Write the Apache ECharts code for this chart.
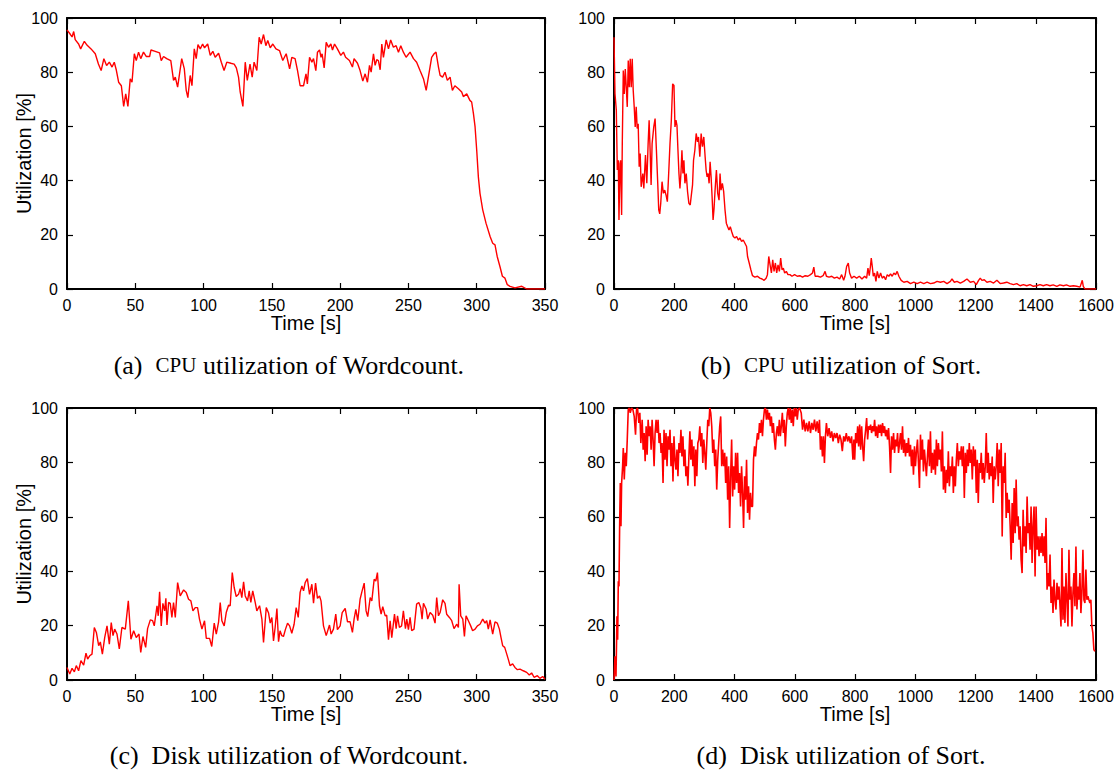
<!DOCTYPE html>
<html>
<head>
<meta charset="utf-8">
<title>Utilization</title>
<script src="https://cdn.jsdelivr.net/npm/echarts@6/dist/echarts.min.js"></script>
<style>
  html, body { margin: 0; padding: 0; background: #fff; }
  #chart { width: 1120px; height: 770px; }
</style>
</head>
<body>
<div id="chart"></div>
<script>
// values, [time s, utilization %]
var wcCpu = [[0,95.6],[2.4,94],[3.7,93],[4.9,95],[6,92],[8.5,90.4],[10,88.6],[12.7,91.4],[14.6,90],[17.6,88.6],[20.7,86.8],[23,83],[25,80.6],[27,85],[29,82.5],[31,83.7],[33,81.9],[34.6,83.7],[36,81],[37.8,76.3],[39.8,75],[41.5,67.4],[43,72],[44.6,67.4],[46.3,77.6],[47.6,76.3],[49.3,86.8],[50.7,84.3],[52.4,87.4],[54,85],[56,87.4],[58,85.8],[60.5,85.8],[61.5,88.2],[64.6,87.7],[67.8,87.1],[69,84.3],[70.7,85.8],[73,85],[76,84.3],[78,77],[79.3,78.2],[81,74.5],[82.4,79.4],[84,85],[85.9,81.2],[87.3,73.3],[88.5,70.6],[90.2,78.8],[91.5,75],[93.2,88.6],[94.6,85],[95.9,90.2],[97.6,88.6],[99.3,90.4],[100.7,89],[103,90.4],[104.9,86.2],[106.8,87.7],[108.5,85.5],[111,87],[113,83.7],[115,80.6],[117,83.7],[120,83.3],[122.4,83],[124,81.6],[125.6,78.2],[126.8,72.7],[128.8,67.4],[130.5,83.7],[132,77],[134,83],[135.6,78.2],[137,83.7],[139,80.6],[140.7,92.9],[142.2,90.4],[143.9,93.9],[145.6,89.8],[147,91.7],[148.8,89],[150.7,90.4],[153,88.6],[155.6,88],[158,84.3],[160.5,86.8],[163,81.2],[164.6,85.5],[167,85],[168.8,80.6],[170.7,75],[173.2,75],[175,79.4],[176,75.7],[177.6,85.5],[179.3,83.7],[180.5,85],[182.2,80.6],[183.4,87.4],[184.9,88.2],[186,85.5],[186.8,86.8],[188.3,81.6],[189.8,91],[191.5,89.2],[193.2,90.4],[194.4,88.2],[195.9,90.4],[198,88.6],[200.5,86.2],[202.4,87.4],[204,85.5],[206.8,84.3],[209,81.9],[210.2,85],[212.7,83.3],[214.6,80.6],[216.6,76.7],[218.3,79.4],[220,76.3],[221.5,82.5],[222.7,80],[224.4,86.8],[225.6,82.5],[226.8,84.6],[228,84.3],[229.3,80.9],[230.5,90.4],[231.7,85.5],[233.7,91.9],[235.4,88.6],[237,91.9],[239,89.2],[241,89.8],[242.7,87.4],[244.4,89.8],[246.3,87.4],[248.3,85.5],[251.2,87.4],[253.7,85],[256,83.7],[258.5,80.6],[261,77.6],[263,73.3],[264.6,78.2],[267,85.5],[268.8,86.8],[270.2,87.4],[272,81.9],[273.2,78.8],[275,78.2],[276.8,80],[278.5,77],[280.5,78.2],[282.2,73.3],[284,75],[286.6,73.9],[289,72.7],[290.2,71],[292.7,72],[295,69.6],[296.3,69],[297.6,64.7],[298.8,59.8],[300,51.2],[301.2,41.4],[302.4,35.3],[304.4,29.2],[306.8,24.3],[309.8,19.4],[311.7,16.9],[313.4,16.3],[315,12],[317,8.3],[318.8,4.7],[320.7,4],[322.4,1.6],[324.4,1],[328,0.4],[333,1],[336.6,0],[350,0]];

var sortCpu = [[0,92.9],[3.3,72],[7.7,66],[11,43.9],[14.3,47.5],[16.5,25.5],[19.8,46.3],[22,47.5],[25.3,27.3],[27.5,53.7],[30.8,80.6],[34.1,72],[37.4,81.2],[40.7,74.5],[44,67.2],[47.3,84.3],[50.6,74.5],[53.9,85],[57.2,74.5],[60.5,85],[63.8,73.3],[67.1,67.2],[70.4,59.8],[73.7,67.2],[77,59.2],[80.3,61],[83.6,45.1],[86.9,50],[90.2,37.7],[95.7,42.6],[99,37.1],[104.5,49.4],[108.9,39],[113.3,53.7],[116.6,62.3],[119.9,51.2],[123.2,38.4],[126.5,53.7],[132,59.8],[136.4,62.9],[140.8,51.2],[145.2,39],[148.5,29.2],[151.8,27.7],[155.1,31.6],[159.5,39.6],[163.9,35.3],[168.3,36.5],[172.7,34.7],[177.1,32.2],[181.5,42.6],[185.9,53.7],[190.3,62.3],[194.7,75.7],[199.1,75.1],[202.4,59.8],[205.7,62.3],[209,60.4],[212.3,51.2],[215.6,42.6],[218.9,37.1],[222.2,42.6],[225.5,51.2],[228.8,42.6],[232.1,47.5],[235.4,39],[239.8,42.6],[244.2,35.9],[248.6,31.6],[253,31],[257.4,35.3],[260.7,38.4],[264,47.5],[268.4,51.2],[272.8,57.4],[277.2,54.3],[280.5,56.1],[284.9,48.8],[289.3,57.4],[293.7,52.5],[298.1,56.1],[302.5,48.8],[305.8,43.9],[309.1,41.4],[312.4,42.6],[315.7,39],[319,46.9],[322.3,41.4],[325.6,34.1],[328.9,25.5],[332.2,29.8],[335.5,36.5],[339.9,43.9],[344.3,35.3],[348.7,32.8],[352,42.6],[355.3,36.5],[359.7,39],[364.1,35.9],[368.5,29.2],[372.9,24.3],[377.3,23],[381.7,21.8],[386.1,23],[390.5,21.2],[396,19.4],[401.5,18.8],[407,19.4],[412.5,18.1],[418,18.8],[423.5,17.5],[429,18.1],[434.5,16.9],[440,15.7],[443.3,12],[448.8,9.6],[454.3,7.1],[459.8,4.9],[467.5,4.4],[476.3,4.7],[484,4],[491.7,3.7],[498.3,3.2],[504.9,4],[509.3,5.3],[513.7,12],[518.1,8.9],[522.5,5.9],[526.9,10.8],[531.3,6.5],[535.7,9.6],[540.1,5.9],[544.5,8.9],[548.9,6.5],[553.3,11.4],[557.7,7.1],[562.1,7.7],[566.5,5.9],[572,6.5],[577.5,5.3],[584.1,5.3],[590.7,4.7],[599.5,5.3],[608.3,4.7],[617.1,4.9],[625.9,4.4],[634.7,4.9],[643.5,4.7],[652.3,5.3],[658.9,5.9],[663.3,8.1],[667.7,4.7],[676.5,4.7],[685.3,4.4],[694.1,4.9],[700.7,6.5],[705.1,4.7],[713.9,4.4],[722.7,4.7],[731.5,4],[740.3,4.4],[749.1,3.7],[755.7,5.3],[762.3,3.2],[766.7,4.7],[772.2,8.3],[777.7,9.6],[782.1,5.9],[788.7,4],[796.7,4.7],[805.5,4],[814.3,4.7],[823.2,3.7],[832,4.7],[838.6,4],[843,7.7],[847.4,4.9],[851.8,8.9],[854,11.4],[857.4,8.3],[860.7,4.7],[865,5.9],[869.5,2.8],[873.9,6.5],[879.4,4],[884.9,5.9],[890.4,4],[896,4.7],[901.5,3.4],[907,5.3],[912.5,4.7],[918,5.6],[923.5,4.7],[929,5.9],[934.6,5.3],[940,6.5],[945.6,4.7],[953.3,3.2],[962.1,2.5],[973.2,2.8],[984.2,2],[995.2,2.5],[1006.3,2],[1017.3,2.5],[1028.3,2],[1039.4,2.5],[1050.4,2],[1061.4,2.2],[1072.4,2.8],[1083.5,2.5],[1094.5,2.8],[1105.5,2],[1116.6,2.8],[1122,3.7],[1129.8,2.5],[1138.6,2.8],[1149.7,2.2],[1160.7,2.8],[1171.7,3.7],[1182.7,2.5],[1193.8,2.8],[1202.6,1.6],[1210.3,3.2],[1215.8,4],[1221.3,3.2],[1229.1,3.4],[1237.9,2.5],[1248.9,2.8],[1260,2.2],[1271,3.2],[1282,2],[1293,2.2],[1304,2.5],[1315,2],[1326,1.6],[1337,2],[1348,1.2],[1359,1.6],[1370,1.2],[1381,1.6],[1392,1],[1403,1.2],[1414,1.6],[1425,1.2],[1436,1.6],[1447,1.2],[1458,1.5],[1470,1],[1480,1.5],[1492,1.2],[1502,1.5],[1514,1],[1525,1.2],[1536,1],[1547,0.7],[1554.5,3.2],[1557.8,1],[1563.3,0],[1600,0]];

var wcDisk = [[0,4.6],[2,2.2],[3.7,4.3],[5.4,3],[6.8,5.3],[8.5,3.4],[10.2,7.1],[12.2,5.5],[13.9,9.9],[15.1,7.7],[16.6,8.9],[18.3,9.5],[20,19.3],[21.5,17.5],[23.2,12.6],[24.4,14],[25.9,9.5],[27.6,15.6],[29.3,19.9],[31,13.2],[32.4,21.1],[33.7,16.3],[34.9,18.7],[36.6,16.9],[38.3,11.4],[40.2,19.3],[42.7,18.7],[44.9,29.1],[46.8,15],[48.8,18.1],[50.7,15.6],[52.7,16.9],[54,10.1],[55.6,16],[57.6,12],[59,18.9],[61,22.1],[62.7,21.8],[63.9,19.9],[65.9,27.3],[66.8,23.6],[67.8,32.4],[69,19.9],[70.2,28.2],[71.5,25.4],[72.4,30],[73.2,20.2],[74.4,28.5],[75.6,28.2],[76.8,23],[78,28.5],[79.3,23],[81,35.8],[82.9,30.9],[85.4,33.1],[87.3,32.2],[89,29.7],[90.7,29.1],[92.2,25.4],[93.9,26.6],[95.6,26.6],[97,22.4],[98.8,18.7],[100.7,21.8],[102,15.3],[104.4,15.3],[106,12.3],[107.8,20.9],[109.3,16.9],[111,21.4],[112.2,28.5],[113.4,21.8],[115.1,19.9],[116.6,24.8],[118.3,27.5],[119.5,27.3],[121,39.5],[122.4,34],[123.9,30.7],[125.6,31.5],[126.8,33.6],[128,30.3],[129.3,36.1],[130.5,30.9],[132.2,29.1],[133.4,32.8],[134.6,28.5],[136,32.8],[137.8,28.5],[139,25.4],[141,27.3],[142.7,22.4],[143.9,13.8],[145.9,26.6],[147.6,24.6],[148.8,20.9],[150,23],[151.2,14.4],[152.4,19.3],[153.7,26.3],[154.9,14.1],[156,18.1],[157.3,16.3],[158.5,16],[160,18.7],[161.5,20.9],[163,19.9],[164.6,17.2],[166.3,20.5],[167.8,26.6],[169.3,23],[170.7,32.2],[172,34.6],[173.2,32.8],[174.4,35.8],[176,37.3],[177.6,31.5],[179.3,35.2],[180.5,28.2],[182,35.6],[183.4,30],[184.9,30.9],[186,29.1],[187.8,19.9],[189.8,16.3],[192.2,20.2],[193.4,16.9],[195.1,18.7],[196.8,24.2],[198,18.5],[200,19.9],[201.5,24.8],[203.7,26.3],[205.4,21.4],[207.3,21.4],[209,17.5],[210.2,22.4],[211.5,26],[212.9,21.8],[214.6,29.7],[215.9,32.4],[217.6,35.6],[219,25.4],[220.2,23.3],[222,30.3],[223.2,29.1],[224.9,37],[226.1,36.4],[227.3,39.5],[228.8,27.3],[230,24.2],[231.2,27],[233,23.6],[234.1,23.8],[235.4,14.8],[236.6,21.8],[237.8,15.6],[239.8,24.2],[241,18.9],[242,23.6],[243.4,19.3],[245,19.9],[246.3,25.4],[247.8,18.9],[248.8,22.4],[250,18.5],[251.2,23],[252.4,18.1],[254.1,18.7],[256,27.9],[257.6,28.5],[259,26.6],[260,22.4],[261,28.2],[263,26],[264.1,22.4],[265.9,24.8],[267.8,23.8],[269.5,20.9],[270.7,30.3],[272,23.6],[273.2,24.8],[275.1,29.5],[276.8,28.2],[278,24.2],[280,23],[281.7,21.8],[283.4,18.9],[285.4,20.5],[286.6,19.3],[287.1,35.2],[288.3,23.6],[289.8,22.4],[291,16],[292.2,23.6],[293.9,21.8],[295.6,19.9],[297,18.1],[298.8,18.7],[300.5,19.9],[302.4,20.5],[304.4,22.4],[306.1,20.9],[307.3,21.8],[308.5,18.7],[309.8,22.1],[311.7,16.9],[313.4,21.4],[315.1,20.9],[316.6,18.7],[317.8,15.6],[319,12.6],[320.5,12],[322,9.5],[323.2,7.5],[324.4,5.3],[326.3,5.9],[328,4.6],[329.8,3.8],[331.7,4],[334.1,3.4],[336.6,2.8],[338.5,1.8],[340.2,2.6],[342,1],[344.4,1.6],[346.3,0.6],[348.3,1.3],[350,0.3]];

var sortDisk = [[0,0],[3.3,8.7],[6.6,1.3],[9.9,23.4],[12.1,14.8],[14.3,36.3],[16.5,34.4],[18.7,56.5],[20.9,72.4],[23.1,56.5],[25.3,72.4],[28.6,78.6],[30.8,85.3],[34.1,73.7],[37.4,83.5],[40.7,78.6],[44,88.4],[47.3,99.4],[50.6,100],[53.9,98.2],[58.3,100],[62.7,99.4],[67.1,96.9],[71.5,90.2],[74.8,99.4],[78.1,100],[82.5,94.5],[85.8,98.2],[89.1,87.1],[93.5,95.7],[96.8,84.7],[100.1,90.8],[103.4,80.4],[106.7,93.3],[110,82.8],[113.3,95.7],[116.6,89.6],[119.9,93.3],[123.2,84.7],[126.5,95.7],[129.8,88.4],[133.1,78.6],[136.4,90.8],[139.7,95.7],[143,90.8],[146.3,95.7],[149.6,87.1],[152.9,90.8],[156.2,83.5],[159.5,87.1],[162.8,72.4],[166.1,92],[169.4,81],[172.7,90.8],[176,78.6],[179.3,89.6],[182.6,84.7],[185.9,92],[189.2,78.6],[192.5,87.1],[195.8,73],[199.1,89.6],[202.4,81],[205.7,77.3],[209,84.7],[212.3,74.9],[215.6,87.1],[218.9,83.5],[222.2,92],[225.5,82.2],[228.8,89.6],[232.1,78.6],[235.4,84.7],[238.7,74.9],[242,78.6],[245.3,71.4],[248.6,82.2],[251.9,91.4],[255.2,81],[258.5,88.4],[261.8,78.6],[265.1,85.9],[268.4,71.2],[271.7,84.7],[275,74.9],[278.3,87.1],[281.6,88.4],[284.9,93.3],[288.2,85.9],[291.5,90.8],[294.8,79.8],[298.1,88.4],[301.4,83.5],[304.7,77.3],[308,87.1],[311.3,95.7],[314.6,93.3],[317.9,100],[321.2,98.2],[324.5,93.3],[327.8,83.5],[331.1,88.4],[334.4,78.6],[337.7,84.7],[341,70],[344.3,81],[347.6,87.1],[350.9,93.3],[354.2,96.9],[357.5,78.6],[360.8,84.7],[364.1,78.6],[367.4,83.5],[370.7,72.4],[374,82.2],[377.3,66.3],[380.6,78.6],[383.9,55.9],[387.2,74.9],[390.5,88.4],[393.8,67.5],[397.1,78.6],[400.4,70],[403.7,83.5],[407,72.4],[410.3,83.5],[413.6,68.8],[416.9,76.1],[420.2,63.8],[423.5,78.6],[426.8,68.8],[430.1,55.9],[433.4,74.9],[436.7,66.3],[440,81],[443.3,61.4],[446.6,71.2],[449.9,58.9],[453.2,68.8],[456.5,63.8],[459.8,63.8],[463.1,81],[466.4,85.9],[469.7,82.2],[473,87.1],[476.3,90.8],[479.6,88.4],[482.9,94.5],[486.2,90.8],[489.5,95.7],[492.8,89.6],[496.1,95.7],[499.4,99.4],[502.7,100],[506,95.7],[509.3,99.4],[512.6,95.7],[515.9,98.2],[519.2,93.3],[522.5,96.9],[525.8,90.8],[529.1,94.5],[532.4,88.4],[535.7,84.7],[539,90.8],[542.3,93.3],[545.6,89.6],[548.9,95.7],[552.2,89.6],[555.5,93.3],[558.8,98.2],[562.1,90.8],[565.4,95.7],[568.7,85.9],[572,93.3],[575.3,98.2],[578.6,100],[581.9,95.7],[585.2,100],[588.5,94.5],[591.8,99.4],[595.1,93.3],[598.4,100],[601.7,96.9],[605,100],[608.3,95.7],[611.6,99.4],[616,100],[621.5,98.2],[625.9,92],[630.3,95.7],[634.7,91.4],[639.1,94.5],[643.5,91.4],[647.9,95.1],[652.3,90.8],[656.7,94.5],[661.1,92],[665.5,95.7],[669.9,91.4],[674.3,95.1],[678.7,90.8],[682,95.7],[685.3,84.7],[688.6,89.6],[691.9,82.2],[695.2,89.6],[698.5,79.8],[701.8,89.6],[705.1,94.5],[709.5,89.6],[713.9,92.6],[718.3,89],[722.7,91.4],[727.1,87.7],[731.5,90.8],[735.9,89],[740.3,90.8],[744.7,87.1],[749.1,90.2],[753.5,88.4],[757.9,84.1],[762.3,89.6],[766.7,87.7],[771.1,90.8],[775.5,87.7],[779.9,89.6],[784.3,87.1],[788.7,89.6],[793.1,81],[796.4,88.4],[799,81],[802.2,90.8],[805.5,87.1],[808.8,93.3],[812.1,85.9],[815.4,93.9],[818.8,84.7],[822.1,93.3],[825.4,85.9],[828.7,80.4],[832,88.4],[835.3,92],[838.6,96.3],[841.9,88.4],[845.2,93.3],[848.5,92],[851.8,93.9],[855.1,90.8],[858.5,93.3],[861.8,91.4],[865.1,95.7],[868.4,89.6],[871.7,93.3],[875,89],[878.3,93.9],[881.6,90.8],[884.9,93.9],[888.2,89.6],[891.5,94.5],[894.9,90.8],[898.2,93.3],[901.5,89.6],[904.8,92],[908.1,88.4],[911.4,92.6],[914.7,85.9],[918,76.1],[921.3,89.6],[924.6,84.7],[928,90.8],[931.3,83.5],[934.6,88.4],[937.9,85.9],[941.2,90.8],[944.5,83.5],[947.8,87.1],[951.1,90.8],[954.4,84.7],[957.7,93.3],[961,83.5],[964.3,88.4],[967.7,82.2],[971,87.1],[974.3,83.5],[977.6,89],[980.9,82.2],[984.2,86.5],[987.5,78.6],[990.8,84.7],[994.1,75.5],[997.4,85.9],[1000.7,78.6],[1004,84.1],[1007.4,88.4],[1010.7,79.8],[1014,70.6],[1017.3,90.2],[1020.6,81],[1023.9,88.4],[1027.2,76.7],[1030.5,84.7],[1033.8,79.8],[1037.1,74.9],[1040.5,82.2],[1043.8,88.4],[1047.1,78.6],[1050.4,91.4],[1053.7,76.1],[1057,83.5],[1060.3,77.3],[1063.6,84.7],[1066.9,75.5],[1070.2,88.4],[1073.5,78.6],[1076.9,87.1],[1080.2,81],[1083.5,84.7],[1086.8,76.7],[1090.1,91.4],[1093.4,70],[1096.7,78.6],[1100,68.8],[1103.3,77.3],[1106.6,72.4],[1109.9,84.1],[1113.2,71.2],[1116.6,78.6],[1119.9,74.9],[1123.2,82.2],[1126.5,68.8],[1129.8,78.6],[1133.1,71.2],[1136.4,81],[1139.7,87.1],[1143,78.6],[1146.3,84.1],[1149.6,81],[1153,85.9],[1156.3,78.6],[1159.6,85.9],[1162.9,66.9],[1166.2,83.5],[1169.5,76.1],[1172.8,84.7],[1176.1,78.6],[1179.4,87.1],[1182.7,79.8],[1186,84.7],[1189.4,73.7],[1192.7,85.9],[1196,78.6],[1199.3,84.7],[1202.6,68.8],[1205.9,81],[1209.2,65.1],[1212.5,79.8],[1215.8,76.1],[1219.1,83.5],[1222.4,73.7],[1225.7,79.8],[1229.1,72.4],[1232.4,78.6],[1235.7,90.8],[1239,76.1],[1242.3,83.5],[1245.6,73.7],[1248.9,79.8],[1252.2,74.9],[1255.5,82.2],[1258.8,65.1],[1262.1,78.6],[1265.4,73.7],[1268.7,78.6],[1272,87.1],[1275.4,71.2],[1278.7,84.7],[1282,76.1],[1285.3,87.1],[1288.6,52.8],[1291.9,78.6],[1295.2,72.4],[1298.5,83.5],[1301.8,59.6],[1305.1,68.8],[1308.4,61.4],[1311.7,66.3],[1315.1,56.5],[1318.4,44.2],[1321.7,65.1],[1325,50.4],[1328.3,70.6],[1331.6,54],[1334.9,73.7],[1338.2,56.5],[1341.5,60.2],[1344.8,51.6],[1348.1,56.5],[1351.4,44.2],[1354.7,39.3],[1358.1,62.6],[1361.4,49.1],[1364.7,56.5],[1368,46.7],[1371.3,67.5],[1374.6,54],[1377.9,57.7],[1381.2,47.9],[1384.5,63.8],[1387.8,43],[1391.1,56.5],[1394.4,63.8],[1397.8,38.1],[1401.1,63.8],[1404.4,47.9],[1407.7,52.8],[1411,45.5],[1414.3,52.8],[1417.6,46.7],[1420.9,54],[1424.2,45.5],[1427.5,52.8],[1430.8,43],[1434.1,59.6],[1437.5,33.2],[1440.8,39.3],[1444.1,34.4],[1447.4,46.1],[1450.7,28.3],[1454,34.4],[1457.3,24.6],[1460.6,36.9],[1463.9,29.5],[1467.2,25.9],[1470.5,35.7],[1473.8,29.5],[1477.2,34.4],[1480.5,27.1],[1483.8,19.7],[1487.1,48.5],[1490.4,22.2],[1493.7,34.4],[1497,21],[1500.3,39.3],[1503.6,29.5],[1506.9,19.7],[1510.2,47.9],[1513.5,29.5],[1516.9,34.4],[1520.2,19.7],[1523.5,32],[1526.8,39.3],[1530.1,27.1],[1533.4,49.1],[1536.7,25.9],[1540,34.4],[1543.3,29.5],[1546.6,39.3],[1549.9,24.6],[1553.2,32],[1556.6,47.9],[1559.9,29.5],[1563.2,28.3],[1566.5,40.6],[1569.8,29.5],[1573.1,30.8],[1576.4,29.5],[1579.7,28.3],[1583,29.5],[1586.3,19.7],[1589.6,17.3],[1593,11.2],[1596.3,10.5]];

var captions = ['(a)  {sc|CPU} utilization of Wordcount.', '(b)  {sc|CPU} utilization of Sort.',
                '(c)  Disk utilization of Wordcount.', '(d)  Disk utilization of Sort.'];
var xMax = [350, 1600, 350, 1600];
var xStep = [50, 200, 50, 200];

// panel boxes in px: left, top, width, height
var boxes = [
    [67, 18, 478, 271],
    [614, 18, 482, 271],
    [67, 408, 478, 272],
    [614, 408, 482, 272]
];
var lines = [wcCpu, sortCpu, wcDisk, sortDisk];

var sans = 'Liberation Sans, Arial, Helvetica, sans-serif';
var serif = 'Liberation Serif, Times New Roman, serif';

var grids = [], xAxes = [], yAxes = [], series = [], graphics = [];

function frameAxis(gi, pos, isX, withLabels, max, step){
    return {
        gridIndex: gi,
        type: 'value',
        position: pos,
        min: 0,
        max: max,
        interval: step,
        axisLine: { show: true, onZero: false, lineStyle: { color: '#000', width: 2 } },
        axisTick: { show: true, inside: true, length: 6, lineStyle: { color: '#000', width: 1.2 } },
        axisLabel: {
            show: withLabels,
            color: '#000',
            fontSize: 16,
            fontFamily: sans,
            margin: isX ? 8 : 9,
            formatter: function(v){ return String(v); }
        },
        splitLine: { show: false }
    };
}

boxes.forEach(function(b, i){
    grids.push({ left: b[0], top: b[1], width: b[2], height: b[3], containLabel: false });
    xAxes.push(frameAxis(i, 'bottom', true, true, xMax[i], xStep[i]));
    xAxes.push(frameAxis(i, 'top', true, false, xMax[i], xStep[i]));
    yAxes.push(frameAxis(i, 'left', false, true, 100, 20));
    yAxes.push(frameAxis(i, 'right', false, false, 100, 20));

    series.push({
        type: 'line',
        xAxisIndex: i * 2,
        yAxisIndex: i * 2,
        data: lines[i],
        showSymbol: false,
        symbol: 'none',
        lineStyle: { color: '#ff0000', width: i === 3 ? 1.6 : 1.4 },
        animation: false
    });

    // x axis title
    graphics.push({
        type: 'text',
        x: b[0] + b[2] / 2,
        y: b[1] + b[3] + 34,
        style: {
            text: 'Time [s]',
            fill: '#000',
            fontSize: 20,
            fontFamily: sans,
            textAlign: 'center',
            textVerticalAlign: 'middle'
        }
    });

    // caption under the panel
    graphics.push({
        type: 'text',
        x: i % 2 === 0 ? 289 : 841,
        y: b[1] + 347,
        style: {
            text: captions[i],
            fill: '#000',
            fontSize: 26,
            fontFamily: serif,
            textAlign: 'center',
            textVerticalAlign: 'middle',
            rich: {
                sc: { fontSize: 21, fontFamily: serif, fill: '#000' }
            }
        }
    });
});

// y axis titles, left panels only
[boxes[0], boxes[2]].forEach(function(b){
    graphics.push({
        type: 'text',
        x: 24,
        y: b[1] + b[3] / 2,
        rotation: Math.PI / 2,
        style: {
            text: 'Utilization [%]',
            fill: '#000',
            fontSize: 20,
            fontFamily: sans,
            textAlign: 'center',
            textVerticalAlign: 'middle'
        }
    });
});

var myChart = echarts.init(document.getElementById('chart'), null, { renderer: 'svg' });
myChart.setOption({
    backgroundColor: '#fff',
    animation: false,
    grid: grids,
    xAxis: xAxes,
    yAxis: yAxes,
    series: series,
    graphic: graphics
});
</script>
</body>
</html>
